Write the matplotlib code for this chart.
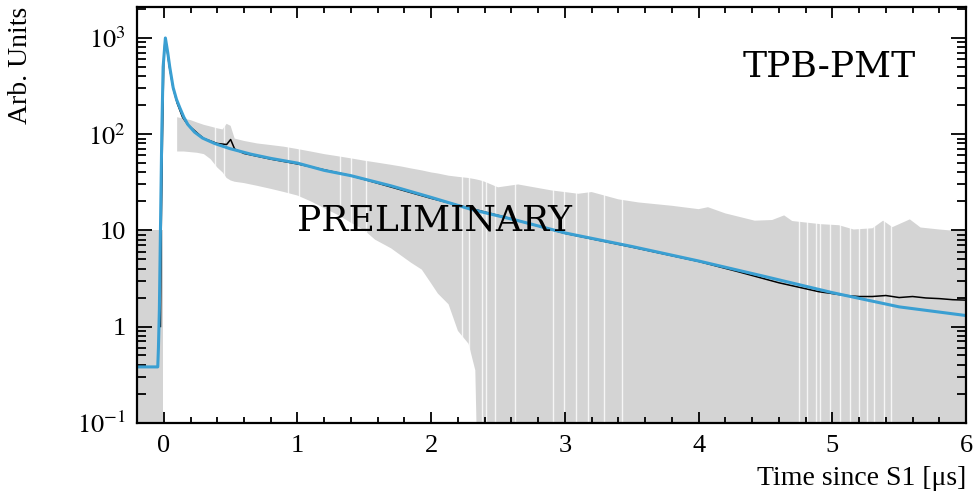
import numpy as np
import matplotlib
matplotlib.use('Agg')
from matplotlib import pyplot as plt
from matplotlib.ticker import FixedLocator, MultipleLocator, LogLocator, NullFormatter

# fitted pulse shape (blue)
fit_t = [-0.20, -0.045, -0.04, -0.033, -0.025, -0.015, -0.005, 0.012, 0.03, 0.045,
         0.07, 0.095, 0.12, 0.15, 0.18, 0.23, 0.29, 0.38, 0.49, 0.65,
         0.80, 1.00, 1.20, 1.40, 1.70, 2.00, 2.30, 2.65, 3.00, 3.50,
         4.00, 4.50, 5.00, 5.50, 6.00]
fit_y = [0.38, 0.38, 0.6, 1.5, 10, 100, 500, 1000, 700, 495,
         305, 230, 188, 150, 126, 105, 91, 80, 71, 62,
         56, 50, 42, 37, 29, 22, 16.5, 12.6, 9.4, 6.8,
         4.8, 3.3, 2.25, 1.6, 1.3]

# averaged waveform (black)
data_t = [-0.025, -0.02, -0.01, 0.0, 0.01, 0.02, 0.04,
          0.07, 0.10, 0.14, 0.18, 0.22, 0.26, 0.30, 0.40, 0.47, 0.50,
          0.53, 0.60, 0.80, 1.00, 1.40, 2.00, 2.60, 3.00, 3.50, 4.00,
          4.30, 4.60, 4.90, 5.00, 5.10, 5.20, 5.30, 5.40, 5.50, 5.60,
          5.70, 5.80, 5.90, 6.00]
data_y = [1.0, 8, 90, 600, 1000, 850, 520,
          300, 210, 150, 125, 112, 100, 90, 80, 78, 88,
          70, 63, 55, 49, 37, 21.5, 13.2, 9.3, 6.7, 4.75,
          3.7, 2.85, 2.3, 2.2, 2.1, 2.05, 2.05, 2.1, 2.0, 2.05,
          1.98, 1.95, 1.9, 1.88]

# error band before the trigger
pre_t = [-0.20, -0.005]
pre_lo = [1e-3, 1e-3]
pre_hi = [10, 10]

# error band after the trigger
band_t = [0.10, 0.15, 0.20, 0.25, 0.30, 0.35, 0.40, 0.44, 0.47, 0.50,
          0.53, 0.60, 0.70, 0.80, 0.90, 1.00, 1.10, 1.20, 1.30, 1.40,
          1.50, 1.58, 1.70, 1.78, 1.85, 1.93, 2.00, 2.05, 2.13, 2.20,
          2.28, 2.33, 2.37, 2.40, 2.50, 2.65, 2.90, 3.10, 3.20, 3.40,
          3.55, 3.80, 4.00, 4.07, 4.20, 4.42, 4.55, 4.64, 4.70, 4.91,
          5.05, 5.16, 5.30, 5.38, 5.45, 5.58, 5.66, 5.80, 5.91, 6.00]
band_hi = [150, 145, 140, 132, 125, 120, 115, 112, 128, 122,
           90, 85, 80, 77, 74, 70, 66, 62, 59, 56,
           53, 51, 48, 46, 44, 42, 40, 39, 37, 36,
           35, 34, 33, 32, 28, 30, 26, 24, 25, 21,
           19.5, 18, 16.6, 17.4, 15, 12.6, 12.8, 14.3, 12.5, 11.6,
           11.3, 10.2, 10.5, 12.6, 10.8, 13, 10.7, 10.2, 9.9, 10]
band_lo = [66, 66, 65, 64, 62, 55, 45, 40, 35, 33,
           32, 31, 29, 27, 25, 23, 20, 17, 14.5, 12,
           10, 8, 6.5, 5.4, 4.6, 3.9, 2.8, 2.2, 1.7, 0.9,
           0.66, 0.35, 0.001, 0.001, 0.001, 0.001, 0.001, 0.001, 0.001, 0.001,
           0.001, 0.001, 0.001, 0.001, 0.001, 0.001, 0.001, 0.001, 0.001, 0.001,
           0.001, 0.001, 0.001, 0.001, 0.001, 0.001, 0.001, 0.001, 0.001, 0.001]

# bins where no error bar was drawn (white slits in the band)
empty_bins = [0.38, 0.45, 0.93, 1.01, 1.32, 1.40, 1.51, 2.23, 2.28, 2.38,
              2.41, 2.48, 2.63, 2.91, 2.99, 3.08, 3.17, 3.29, 3.43, 4.75,
              4.81, 4.88, 4.91, 4.98, 5.06, 5.13, 5.20, 5.26, 5.31, 5.39, 5.44]

ytick_vals = [0.1, 1, 10, 100, 1000]
ytick_labels = [r'$10^{-1}$', '1', '10', r'$10^{2}$', r'$10^{3}$']

plt.rcParams['font.family'] = ['Liberation Serif', 'DejaVu Serif']
plt.rcParams['mathtext.fontset'] = 'stix'

fig = plt.figure(figsize=(9.74, 4.92), dpi=100)
ax = fig.add_axes([0.1407, 0.1409, 0.8511, 0.8449])

gray = '#d4d4d4'
ax.fill_between(pre_t, pre_lo, pre_hi, color=gray, lw=0)
ax.fill_between(band_t, band_lo, band_hi, color=gray, lw=0)
ax.vlines(empty_bins, 1e-3, 3000, color='white', lw=1.0, alpha=0.8, zorder=1.5)
ax.plot(data_t, data_y, color='black', lw=1.1)
ax.plot(fit_t, fit_y, color='#3a9fd2', lw=2.2)

ax.set_yscale('log')
ax.set_xlim(-0.2, 6)
ax.set_ylim(0.1, 2100)

ax.yaxis.set_major_locator(FixedLocator(ytick_vals))
ax.set_yticklabels(ytick_labels)
ax.yaxis.set_minor_locator(LogLocator(base=10, subs=np.arange(2, 10)))
ax.yaxis.set_minor_formatter(NullFormatter())
ax.xaxis.set_major_locator(MultipleLocator(1))
ax.xaxis.set_minor_locator(MultipleLocator(0.2))

ax.tick_params(which='both', direction='in', top=True, right=True, labelsize=19, width=1.3)
ax.tick_params(axis='y', which='major', length=11, pad=8)
ax.tick_params(axis='y', which='minor', length=6.5)
ax.tick_params(axis='x', which='major', length=8, pad=9)
ax.tick_params(axis='x', which='minor', length=4.5)
for s in ax.spines.values():
    s.set_linewidth(1.6)

ax.set_xlabel('Time since S1 [μs]', fontsize=20, loc='right')
ax.xaxis.set_label_coords(1.0, -0.105)
ax.set_ylabel('Arb. Units', fontsize=20, loc='top')
ax.yaxis.set_label_coords(-0.125, 1.0)

ax.text(0.731, 0.832, 'TPB-PMT', transform=ax.transAxes, fontsize=26,
        family='DejaVu Serif', va='baseline')
ax.text(1.0, 10, 'PRELIMINARY', fontsize=26, family='DejaVu Serif', va='baseline')

fig.savefig('out.png', dpi=100)
